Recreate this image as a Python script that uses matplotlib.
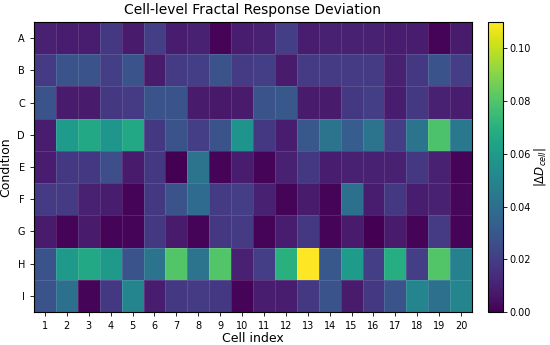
import numpy as np
import matplotlib
matplotlib.use("Agg")
import matplotlib.pyplot as plt

conditions = ["A", "B", "C", "D", "E", "F", "G", "H", "I"]
cells = [str(i) for i in range(1, 21)]

row_A = [0.010, 0.009, 0.009, 0.018, 0.008, 0.020, 0.009, 0.010, 0.001, 0.009, 0.010, 0.020, 0.009, 0.010, 0.010, 0.010, 0.009, 0.009, 0.001, 0.008]
row_B = [0.019, 0.028, 0.028, 0.020, 0.028, 0.008, 0.019, 0.020, 0.028, 0.019, 0.020, 0.008, 0.019, 0.019, 0.019, 0.019, 0.010, 0.018, 0.028, 0.020]
row_C = [0.028, 0.008, 0.008, 0.018, 0.019, 0.028, 0.028, 0.008, 0.007, 0.008, 0.028, 0.030, 0.008, 0.008, 0.018, 0.020, 0.009, 0.018, 0.010, 0.009]
row_D = [0.009, 0.060, 0.066, 0.058, 0.066, 0.018, 0.028, 0.020, 0.028, 0.057, 0.018, 0.009, 0.030, 0.042, 0.032, 0.042, 0.020, 0.042, 0.079, 0.044]
row_E = [0.009, 0.018, 0.018, 0.026, 0.008, 0.018, 0.000, 0.042, 0.001, 0.009, 0.001, 0.010, 0.018, 0.009, 0.010, 0.010, 0.010, 0.018, 0.010, 0.001]
row_F = [0.019, 0.019, 0.010, 0.009, 0.001, 0.018, 0.028, 0.038, 0.019, 0.020, 0.010, 0.001, 0.008, 0.001, 0.040, 0.009, 0.018, 0.009, 0.010, 0.002]
row_G = [0.008, 0.001, 0.008, 0.001, 0.001, 0.018, 0.008, 0.001, 0.018, 0.019, 0.001, 0.009, 0.018, 0.001, 0.008, 0.000, 0.008, 0.001, 0.019, 0.001]
row_H = [0.028, 0.059, 0.066, 0.059, 0.028, 0.042, 0.080, 0.042, 0.080, 0.010, 0.020, 0.070, 0.110, 0.030, 0.060, 0.020, 0.068, 0.020, 0.080, 0.048]
row_I = [0.028, 0.040, 0.001, 0.018, 0.050, 0.009, 0.018, 0.019, 0.018, 0.001, 0.009, 0.009, 0.018, 0.028, 0.008, 0.018, 0.028, 0.050, 0.040, 0.050]

data = np.array([row_A, row_B, row_C, row_D, row_E, row_F, row_G, row_H, row_I])

fig = plt.figure(figsize=(5.5, 3.45), dpi=100)
ax = fig.add_axes([34/550, 33/345, 438/550, 290/345])
mesh = ax.pcolormesh(np.arange(len(cells) + 1), np.arange(len(conditions) + 1), data,
                     cmap="viridis", vmin=0, vmax=0.11,
                     edgecolors=(1, 1, 1, 0.12), linewidth=0.5)
ax.set_xlim(0, len(cells))
ax.set_ylim(len(conditions), 0)
ax.set_xticks(np.arange(len(cells)) + 0.5)
ax.set_xticklabels(cells, fontsize=7)
ax.set_yticks(np.arange(len(conditions)) + 0.5)
ax.set_yticklabels(conditions, fontsize=7)
ax.tick_params(length=3, width=0.6)
ax.set_xlabel("Cell index", fontsize=9, labelpad=1)
ax.set_ylabel("Condition", fontsize=9, labelpad=4)
ax.set_title("Cell-level Fractal Response Deviation", fontsize=10, pad=6)
for s in ax.spines.values():
    s.set_linewidth(0.8)

cax = fig.add_axes([488/550, 33/345, 14.5/550, 290/345])
cb = fig.colorbar(mesh, cax=cax)
cb.set_ticks([0.0, 0.02, 0.04, 0.06, 0.08, 0.10])
cb.ax.tick_params(labelsize=7, length=3, width=0.6, pad=2)
cb.set_label(r"$|\Delta D_{cell}|$", fontsize=8.5, labelpad=1)
cb.outline.set_linewidth(0.8)

fig.savefig("out.png", dpi=100)
